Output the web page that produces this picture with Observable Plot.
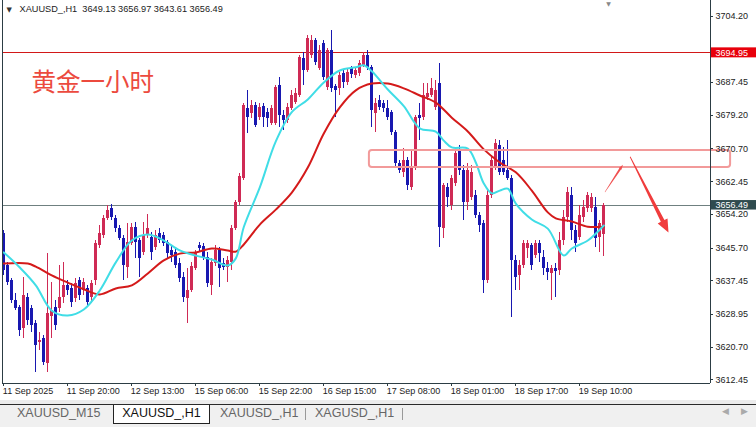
<!DOCTYPE html>
<html><head><meta charset="utf-8">
<script src="https://cdn.jsdelivr.net/npm/d3@7"></script>
<script src="https://cdn.jsdelivr.net/npm/@observablehq/plot@0.6"></script>
<style>
html,body{margin:0;padding:0;background:#fff;width:756px;height:427px;overflow:hidden;font-family:"Liberation Sans",Arial,sans-serif;}
#wrap{position:relative;width:756px;height:427px;}
#chart{position:absolute;left:0;top:0;}
#strip{position:absolute;left:0;top:400px;width:756px;height:4px;background:#ececec;}
#tabline{position:absolute;left:0;top:404px;width:756px;height:1px;background:#2a2a2a;}
#tabs{position:absolute;left:0;top:405px;width:756px;height:22px;background:#f0f0f0;}
.tab{position:absolute;top:0;height:18px;line-height:17px;font-size:12.5px;color:#666;white-space:nowrap;}
.tab.active{background:#fff;color:#111;border-left:1px solid #222;border-right:1px solid #222;border-bottom:1px solid #222;text-align:center;}
.sep{position:absolute;top:3px;width:1px;height:12px;background:#999;}
.nav{position:absolute;top:1px;font-size:9px;color:#aaa;}
</style>
</head><body>
<div id="wrap">
  <div id="chart"></div>
  <div id="strip"></div>
  <div id="tabline"></div>
  <div id="tabs"></div>
</div>
<script>
// ---- Data (H1 candles) ----
const open = [3649.4,3641.3,3637.5,3632.5,3630.7,3625.4,3633.3,3630.5,3626.7,3621.9,
3622.9,3616.6,3628.5,3630.7,3630.5,3633.3,3636.3,3635.5,3633.0,3637.5,
3635.0,3635.5,3633.3,3637.5,3646.4,3648.9,3653.2,3655.7,3653.2,3650.7,
3648.2,3640.8,3646.9,3650.9,3647.6,3644.6,3648.9,3648.4,3645.9,3649.4,
3648.9,3647.1,3645.1,3644.6,3641.8,3638.3,3633.0,3635.0,3640.6,3646.4,
3646.1,3643.4,3636.3,3641.8,3645.1,3641.8,3640.8,3642.1,3650.7,3657.2,
3663.3,3680.9,3679.7,3681.7,3678.7,3681.4,3679.9,3677.2,3677.2,3686.8,
3679.2,3677.9,3680.9,3682.5,3684.2,3693.6,3690.5,3694.3,3698.1,3691.0,
3697.4,3686.2,3695.6,3686.5,3686.0,3689.8,3687.5,3691.0,3689.3,3689.8,
3691.8,3694.3,3691.3,3679.7,3683.0,3682.2,3680.9,3679.9,3674.9,3667.1,
3664.8,3667.8,3661.0,3666.1,3679.2,3678.7,3683.7,3684.2,3681.2,3687.3,
3650.7,3661.0,3656.5,3662.0,3670.4,3665.3,3657.2,3658.5,3659.0,3653.9,
3651.9,3637.5,3659.0,3665.8,3671.6,3667.8,3665.3,3663.3,3642.6,3638.8,
3641.3,3645.6,3646.4,3643.9,3646.9,3643.4,3640.6,3639.3,3640.6,3640.1,
3647.6,3653.4,3659.0,3650.2,3648.4,3653.4,3655.7,3655.7,3656.0,3648.4,
3649.13];
const high = [3650.2,3642.1,3638.1,3634.3,3631.2,3638.3,3634.3,3631.2,3627.5,3624.4,
3623.7,3644.4,3637.0,3632.5,3641.3,3642.1,3637.5,3636.8,3638.1,3638.3,
3638.1,3636.3,3637.5,3647.6,3651.4,3653.9,3656.5,3656.7,3653.9,3651.4,
3648.9,3651.9,3651.9,3652.2,3648.2,3652.2,3654.2,3649.7,3650.2,3650.7,
3649.7,3647.6,3646.1,3645.6,3643.1,3639.6,3640.6,3642.1,3645.1,3647.1,
3646.9,3644.6,3643.1,3646.4,3645.9,3643.1,3643.6,3651.4,3657.7,3664.5,
3682.2,3685.5,3683.0,3682.5,3682.2,3682.2,3680.9,3681.7,3686.8,3688.8,
3680.4,3682.2,3685.5,3686.0,3694.3,3695.1,3699.4,3699.4,3698.6,3696.8,
3698.1,3696.1,3700.6,3687.0,3690.0,3690.5,3691.0,3691.5,3691.3,3693.1,
3695.1,3695.6,3691.8,3683.5,3684.2,3683.0,3683.0,3680.4,3675.4,3667.8,
3670.9,3668.6,3670.4,3679.2,3682.2,3687.3,3687.3,3688.5,3688.0,3692.3,
3662.0,3662.0,3664.0,3670.4,3671.6,3666.6,3667.1,3666.6,3660.3,3654.7,
3652.7,3660.3,3669.1,3673.1,3672.9,3671.1,3672.9,3664.0,3643.9,3642.6,
3647.6,3647.6,3646.9,3647.6,3647.6,3645.1,3642.1,3641.3,3641.8,3649.7,
3655.2,3661.0,3661.0,3651.4,3656.5,3657.7,3659.8,3659.5,3658.5,3652.7,
3656.97];
const low = [3638.8,3636.3,3631.8,3630.0,3623.4,3622.9,3626.2,3624.4,3614.3,3619.9,
3616.1,3614.3,3622.9,3624.9,3629.5,3631.8,3633.8,3630.7,3632.0,3632.5,
3633.8,3631.2,3631.8,3636.3,3645.6,3648.2,3652.7,3652.7,3649.7,3647.6,
3637.5,3638.1,3646.4,3643.1,3638.3,3643.9,3648.2,3642.6,3645.1,3646.9,
3646.1,3643.1,3642.1,3640.6,3637.0,3632.0,3626.7,3634.5,3640.1,3644.6,
3642.6,3635.8,3633.8,3641.1,3635.8,3640.1,3637.0,3640.1,3650.2,3656.5,
3662.8,3674.6,3678.4,3676.2,3677.9,3676.2,3676.2,3676.7,3676.7,3676.2,
3675.4,3677.2,3680.4,3682.0,3683.7,3686.8,3690.0,3693.6,3691.8,3690.5,
3688.0,3685.5,3685.0,3678.7,3684.2,3686.0,3686.8,3688.5,3688.5,3689.0,
3691.3,3690.5,3676.2,3674.9,3680.4,3679.9,3677.9,3674.1,3666.0,3664.5,
3663.5,3660.3,3660.3,3665.3,3672.9,3677.9,3683.0,3683.7,3680.4,3645.9,
3648.2,3656.0,3655.2,3661.3,3664.0,3652.7,3655.2,3657.7,3653.2,3649.7,
3634.3,3636.8,3658.2,3665.3,3664.0,3664.0,3662.8,3628.2,3635.0,3635.0,
3640.6,3643.1,3640.1,3643.1,3642.1,3638.8,3637.5,3632.5,3633.3,3638.8,
3646.4,3652.2,3647.6,3644.6,3647.6,3652.2,3654.7,3654.7,3645.9,3644.6,
3643.61];
const close = [3640.1,3637.0,3632.5,3630.5,3624.9,3633.8,3627.5,3626.2,3621.2,3622.4,
3616.9,3629.2,3630.0,3626.2,3633.3,3636.3,3635.0,3632.0,3636.8,3633.8,
3637.0,3632.0,3636.8,3646.9,3649.4,3653.2,3655.2,3653.4,3650.7,3648.2,
3641.3,3647.1,3650.9,3647.1,3643.1,3648.9,3650.7,3644.6,3648.9,3647.6,
3646.9,3644.4,3643.9,3641.3,3638.1,3633.3,3635.0,3641.1,3644.4,3645.6,
3643.4,3636.8,3642.1,3645.1,3640.6,3640.8,3642.6,3650.7,3657.2,3663.8,
3681.7,3678.7,3681.7,3676.7,3681.2,3678.7,3678.4,3680.9,3686.2,3679.2,
3677.9,3681.2,3684.2,3684.7,3693.8,3690.5,3698.6,3698.1,3692.6,3695.6,
3688.8,3695.6,3686.0,3685.5,3689.3,3687.5,3690.0,3689.5,3690.5,3692.3,
3694.3,3691.3,3680.4,3682.2,3681.2,3680.9,3678.7,3674.9,3667.1,3665.3,
3667.8,3661.5,3665.8,3678.7,3678.4,3684.2,3684.7,3686.0,3685.5,3650.9,
3661.5,3658.5,3663.3,3669.6,3665.3,3657.2,3665.3,3664.8,3653.9,3651.4,
3637.5,3659.0,3667.8,3672.1,3664.8,3664.8,3663.3,3642.6,3638.3,3641.3,
3646.9,3646.9,3641.3,3646.9,3644.4,3640.6,3639.6,3640.6,3639.8,3647.6,
3653.4,3659.8,3650.2,3646.9,3653.9,3655.9,3659.0,3658.5,3648.2,3651.9,
3656.49];

// moving averages (bar index, price)
const fastIdx = [0,4,8,12,16,20,24,28,32,36,40,44,48,52,56,58,60,64,68,72,76,80,84,88,90,92,96,100,104,108,110,112,116,118,120,122,124,126,128,132,136,140,142,146,150];
const fastVal = [3644.6,3640.8,3636.3,3629.9,3628.7,3630.2,3635.0,3642.1,3647.6,3649.1,3647.6,3645.1,3643.8,3642.8,3641.3,3643.1,3651.0,3661.0,3672.6,3680.0,3683.2,3687.5,3690.5,3691.3,3691.8,3690.3,3685.7,3681.5,3675.9,3675.1,3672.8,3671.1,3670.8,3667.3,3662.0,3659.5,3660.2,3660.7,3656.9,3652.9,3650.6,3643.8,3645.6,3647.6,3651.4];
const slowIdx = [0,6,8,12,16,20,24,28,32,36,40,44,48,52,56,58,60,64,68,72,76,80,84,88,92,96,100,104,108,112,116,120,124,128,132,136,138,142,146,150];
const slowVal = [3641.8,3641.8,3641.0,3638.8,3637.0,3635.3,3634.0,3635.5,3636.3,3639.3,3642.6,3644.3,3644.6,3645.6,3645.1,3644.8,3646.6,3651.6,3655.4,3659.7,3666.0,3674.6,3681.2,3685.5,3687.2,3687.2,3686.0,3684.2,3682.4,3678.6,3675.1,3670.6,3667.3,3664.8,3660.2,3654.7,3653.2,3652.4,3651.1,3651.1];

// axis ticks
const priceTicks = [3704.20,3687.45,3679.20,3670.70,3662.45,3654.20,3645.70,3637.45,3628.95,3620.70,3612.45];
const dateIdx = [0,16,32,48,64,80,96,112,128,144];
const dateLabels = ["11 Sep 2025","11 Sep 20:00","12 Sep 13:00","15 Sep 06:00","15 Sep 22:00","16 Sep 15:00","17 Sep 08:00","18 Sep 01:00","18 Sep 17:00","19 Sep 10:00"];

// levels and annotations
const resistLevel = [3694.95];
const bidLevel = [3656.49];
const zoneX = [91.4, 181.7];
const zoneY = [3666.0, 3670.3];
const arrowUpX = [150.4, 154.9], arrowUpY = [3659.7, 3666.6];
const arrowDownX = [156.7, 166.3], arrowDownY = [3668.6, 3649.5];
const symbol = "XAUUSD_,H1";
const noteText = "黄金一小时";
const tabNames = ["XAUUSD_M15","XAUUSD_,H1","XAUUSD_,H1","XAGUSD_,H1"];

// ---- Build ----
const BULL = "#cf2a55", BEAR = "#1818b0";
const candles = open.map((o, i) => {
  const c = close[i];
  let lo = Math.min(o, c), hi = Math.max(o, c);
  if (hi - lo < 0.26) hi = lo + 0.26;
  return {i, o, c, h: high[i], l: low[i], lo, hi, up: c >= o};
});
const fast = fastIdx.map((i, k) => ({i, v: fastVal[k]}));
const slow = slowIdx.map((i, k) => ({i, v: slowVal[k]}));
const XMIN = -0.325, XMAX = 176.675, YMIN = 3611.53, YMAX = 3708.16;
const AXIS = "#2c3d44";

const plot = Plot.plot({
  width: 756, height: 400,
  marginLeft: 2, marginRight: 46, marginTop: 0, marginBottom: 17,
  x: {domain: [XMIN, XMAX], axis: null},
  y: {domain: [YMIN, YMAX], axis: null},
  style: {background: "white", fontFamily: "Liberation Sans, Arial, sans-serif", overflow: "visible"},
  marks: [
    Plot.ruleY(resistLevel, {y: d => d, x1: XMIN, x2: XMAX, stroke: "#d21818", strokeWidth: 1, shapeRendering: "crispEdges"}),
    Plot.ruleY(bidLevel, {y: d => d, x1: XMIN, x2: XMAX, stroke: "#6f8080", strokeWidth: 1, shapeRendering: "crispEdges"}),
    Plot.ruleX(candles, {x: "i", y1: "l", y2: "h", stroke: d => d.up ? BULL : BEAR, strokeWidth: 1, shapeRendering: "crispEdges"}),
    Plot.rect(candles, {x1: d => d.i - 0.375, x2: d => d.i + 0.375, y1: "lo", y2: "hi", fill: d => d.up ? BULL : BEAR, shapeRendering: "crispEdges"}),
    Plot.line(slow, {x: "i", y: "v", stroke: "#d41a1a", strokeWidth: 2, curve: "catmull-rom"}),
    Plot.line(fast, {x: "i", y: "v", stroke: "#40dde6", strokeWidth: 2, curve: "catmull-rom"}),
    Plot.rect([0], {x1: zoneX[0], x2: zoneX[1], y1: zoneY[0], y2: zoneY[1], fill: "none", stroke: "#f29a9a", strokeWidth: 2, rx: 3}),
    // frame
    Plot.ruleX([XMIN, XMAX], {x: d => d, y1: YMIN, y2: YMAX, stroke: AXIS, strokeWidth: 1, shapeRendering: "crispEdges"}),
    Plot.ruleY([YMIN], {y: d => d, x1: XMIN, x2: XMAX, stroke: AXIS, strokeWidth: 1, shapeRendering: "crispEdges"}),
    // price axis
    Plot.ruleY(priceTicks, {y: d => d, x1: XMAX, x2: XMAX + 0.8, stroke: AXIS, strokeWidth: 1, shapeRendering: "crispEdges"}),
    Plot.text(priceTicks, {x: XMAX, y: d => d, text: d => d.toFixed(2), dx: 5, textAnchor: "start", fontSize: 9, fill: "#222"}),
    // level labels
    Plot.rect(resistLevel, {x1: 176.9, x2: 188.4, y1: d => d - 1.26, y2: d => d + 1.26, fill: "#e8000b"}),
    Plot.text(resistLevel, {x: XMAX, y: d => d, text: d => d.toFixed(2), dx: 5, textAnchor: "start", fontSize: 9, fill: "white"}),
    Plot.rect(bidLevel, {x1: 176.9, x2: 188.4, y1: d => d - 1.2, y2: d => d + 1.2, fill: "#2f4b4f"}),
    Plot.text(bidLevel, {x: XMAX, y: d => d, text: d => d.toFixed(2), dx: 5, textAnchor: "start", fontSize: 9, fill: "white"}),
    // date axis
    Plot.ruleX(dateIdx, {x: d => d, y1: YMIN, y2: YMIN - 0.85, stroke: AXIS, strokeWidth: 1, shapeRendering: "crispEdges"}),
    Plot.text(dateIdx, {x: d => d, y: YMIN, text: (d, k) => dateLabels[k], dy: 8, dx: -1, textAnchor: "start", lineAnchor: "middle", fontSize: 9, fill: "#222"}),
    // header
    Plot.text(["▼"], {frameAnchor: "top-left", dx: 4, dy: 9, text: d => d, textAnchor: "start", lineAnchor: "middle", fontSize: 7, fill: "#333", fontFamily: "DejaVu Sans"}),
    Plot.text([0], {frameAnchor: "top-left", dx: 17, dy: 9, text: () => symbol + "\u00a0\u00a0" + [open[150], high[150], low[150], close[150]].map(v => v.toFixed(2)).join("\u00a0"), textAnchor: "start", lineAnchor: "middle", fontSize: 9.2, fill: "#222"}),
    Plot.text(["▼"], {frameAnchor: "top-right", dx: -102, dy: 4, text: d => d, textAnchor: "middle", lineAnchor: "middle", fontSize: 6, fill: "#888", fontFamily: "DejaVu Sans"}),
    // note
    Plot.text([noteText], {frameAnchor: "top-left", dx: 29, dy: 83, text: d => d, textAnchor: "start", lineAnchor: "middle", fontSize: 24.5, fill: "#ec4a3e", fontFamily: "Noto Sans CJK SC"})
  ]
});
document.getElementById("chart").appendChild(plot);

// tapered arrows drawn with the plot's scales
const sx = plot.scale("x"), sy = plot.scale("y");
function arrowPath(xs, ys, w0, w1, hw, hl) {
  const x0 = sx.apply(xs[0]), y0 = sy.apply(ys[0]), x1 = sx.apply(xs[1]), y1 = sy.apply(ys[1]);
  const L = Math.hypot(x1 - x0, y1 - y0), ux = (x1 - x0) / L, uy = (y1 - y0) / L, nx = -uy, ny = ux;
  const s = [x1 - ux * hl, y1 - uy * hl];
  const pts = [
    [x0 + nx * w0 / 2, y0 + ny * w0 / 2], [s[0] + nx * w1 / 2, s[1] + ny * w1 / 2], [s[0] + nx * hw / 2, s[1] + ny * hw / 2],
    [x1, y1], [s[0] - nx * hw / 2, s[1] - ny * hw / 2], [s[0] - nx * w1 / 2, s[1] - ny * w1 / 2], [x0 - nx * w0 / 2, y0 - ny * w0 / 2]
  ];
  return "M" + pts.map(p => p[0].toFixed(2) + "," + p[1].toFixed(2)).join("L") + "Z";
}
const svg = d3.select(plot);
svg.append("path").attr("d", arrowPath(arrowUpX, arrowUpY, 0.4, 2, 3.2, 5)).attr("fill", "#f05050");
svg.append("path").attr("d", arrowPath(arrowDownX, arrowDownY, 0.8, 4, 11, 13)).attr("fill", "#f03c3c");

// tabs
const tabs = document.getElementById("tabs");
const tabLeft = [17, 113, 220, 315], tabW = [null, 95, null, null];
tabNames.forEach((name, k) => {
  const el = document.createElement("div");
  el.className = "tab" + (k === 1 ? " active" : "");
  el.textContent = name;
  el.style.left = tabLeft[k] + "px";
  if (tabW[k]) el.style.width = tabW[k] + "px";
  tabs.appendChild(el);
});
[305, 402].forEach(x => { const s = document.createElement("div"); s.className = "sep"; s.style.left = x + "px"; tabs.appendChild(s); });
[["◀", 722], ["▶", 741]].forEach(([t, x]) => { const s = document.createElement("div"); s.className = "nav"; s.textContent = t; s.style.left = x + "px"; tabs.appendChild(s); });
</script>
</body></html>
